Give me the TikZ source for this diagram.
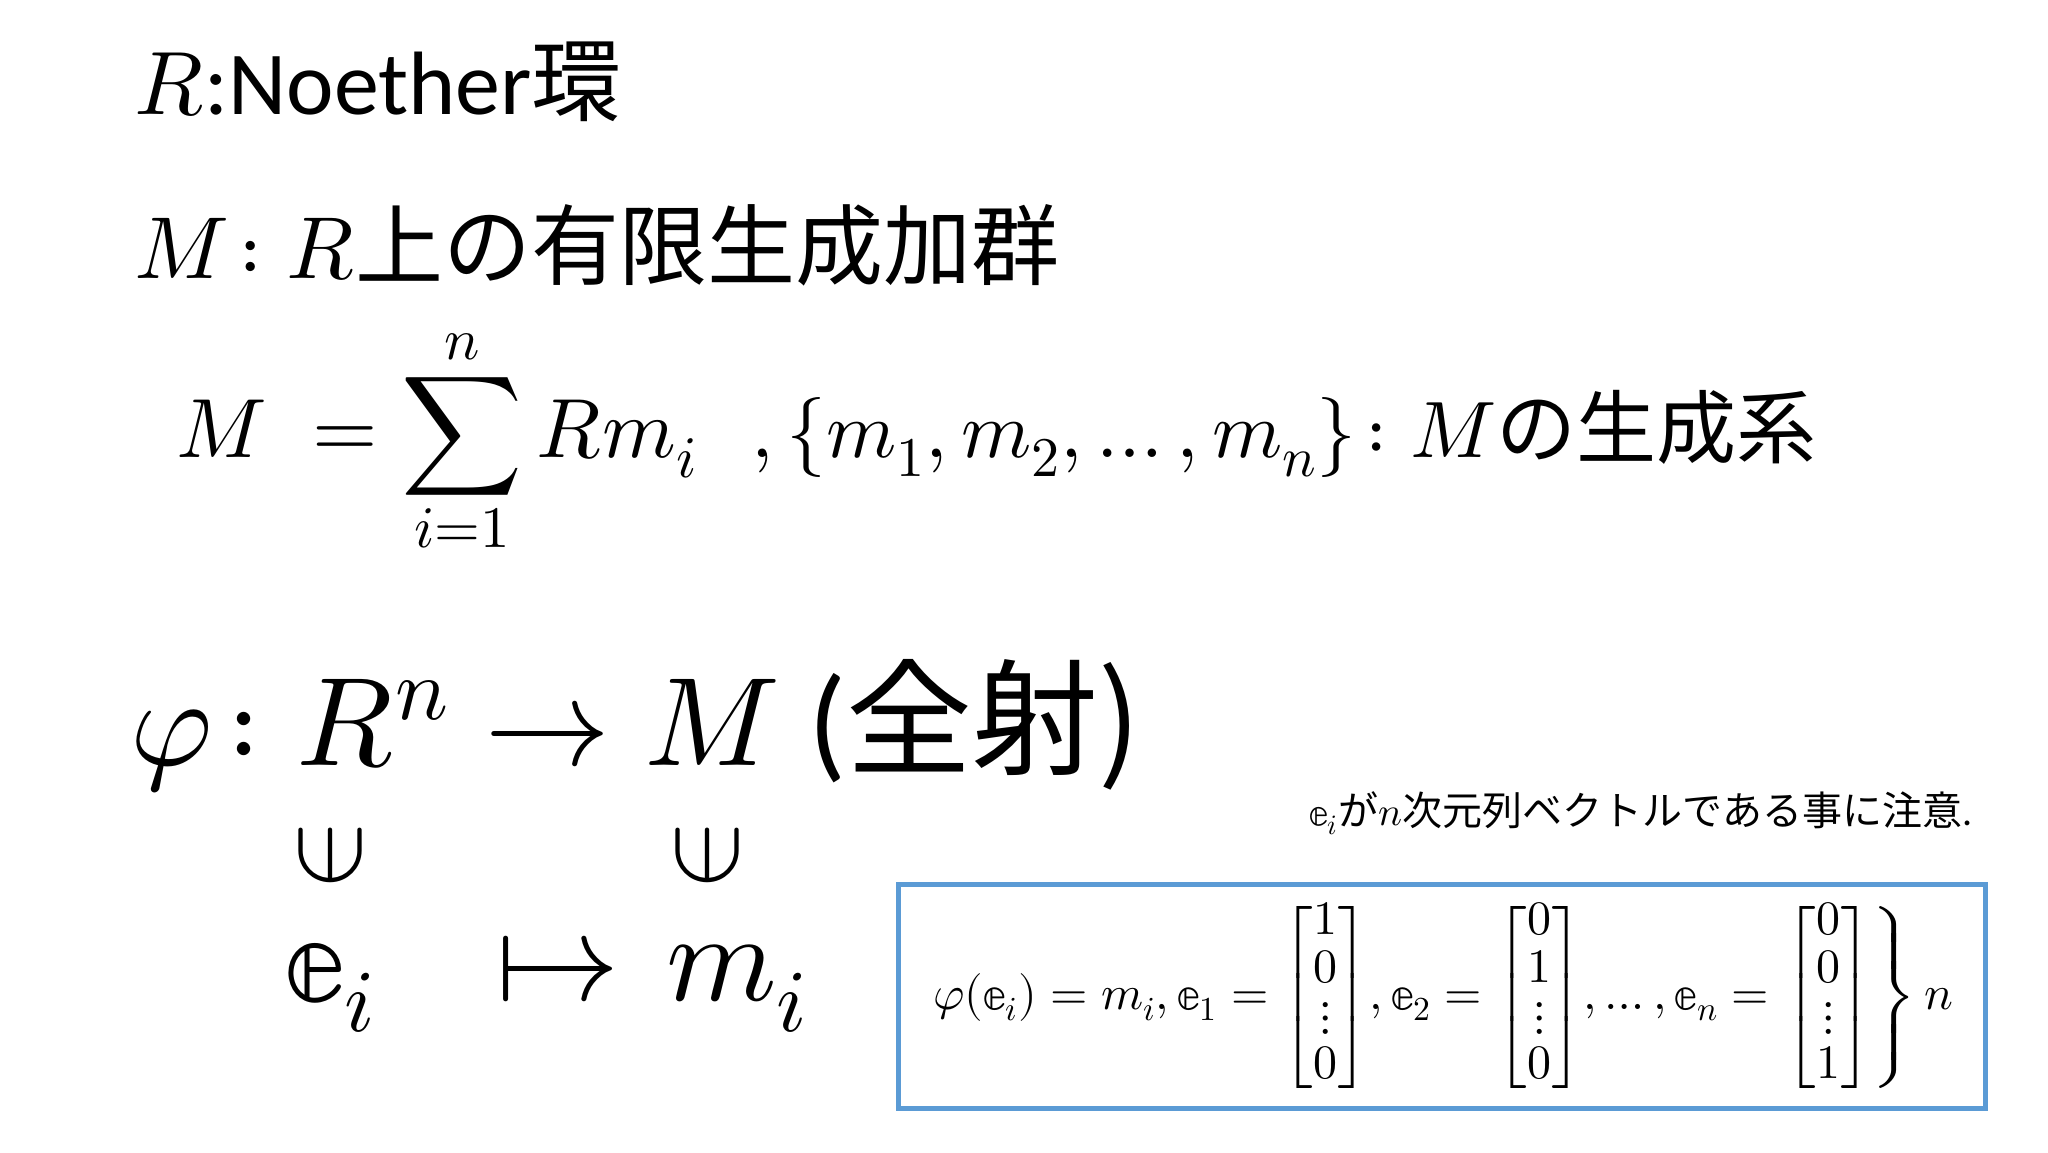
\documentclass[tikz,border=0pt]{standalone}
\usepackage{amsmath}
\usepackage{unicode-math}
\usepackage{graphicx}
\setmainfont{Carlito}
\setmathfont{Latin Modern Math}
\newfontfamily\jp{Noto Sans CJK JP}
\newcommand\fsz[1]{\fontsize{#1}{#1}\selectfont}
\newcommand\bbe{\symbb{e}}
\definecolor{boxblue}{HTML}{5B9BD5}
\tikzset{t/.style={anchor=base west,inner sep=0pt,outer sep=0pt}}
\begin{document}
\begin{tikzpicture}[x=0.5pt,y=-0.5pt]
\useasboundingbox (0,0) rectangle (2048,1152);
\node[t,font=\fsz{45}] (l1) at (134,114) {$R$:Noether{\jp 環}};
\node[t,font=\fsz{44}] (l2) at (134,278) {$M\!:R${\jp 上の有限生成加群}};
\node[t,font=\fsz{42}] (l3) at (176,457) {$M\;=\displaystyle\sum_{i=1}^{n} Rm_i$};
\node[t,font=\fsz{40}] (l3b) at (751,457) {$,\{m_1,m_2,\dots,m_n\}\!:M${\jp の生成系}};
\node[t,font=\fsz{63}] (l4) at (130,765) {$\varphi\!:R^n\to M$ (\jp 全射)};
\node[inner sep=0pt,font=\fsz{54}] (in1) at (330,855) {\rotatebox{90}{$\in$}};
\node[inner sep=0pt,font=\fsz{54}] (in2) at (707,855) {\rotatebox{90}{$\in$}};
\node[t,font=\fsz{63}] (e) at (285,1000) {$\bbe_i$};
\node[t,font=\fsz{63}] (to) at (496,1000) {$\mapsto$};
\node[t,font=\fsz{63}] (m) at (666,1000) {$m_i$};
\node[t,font=\fsz{20}] (note) at (1309,825) {$\bbe_i${\jp が}$n${\jp 次元列ベクトルである事に注意}.};
\draw[boxblue,line width=2.5pt] (898,884) rectangle (1985,1108);
\node[font=\fsz{24},inner sep=0pt] (f) at (1443,997) {$\varphi(\bbe_i)=m_i,\bbe_1=\begin{bmatrix}1\\0\\\vdots\\0\end{bmatrix}\!,\bbe_2=\begin{bmatrix}0\\1\\\vdots\\0\end{bmatrix}\!,\dots,\bbe_n=\left.\begin{bmatrix}0\\0\\\vdots\\1\end{bmatrix}\right\}n$};
\end{tikzpicture}
\end{document}
